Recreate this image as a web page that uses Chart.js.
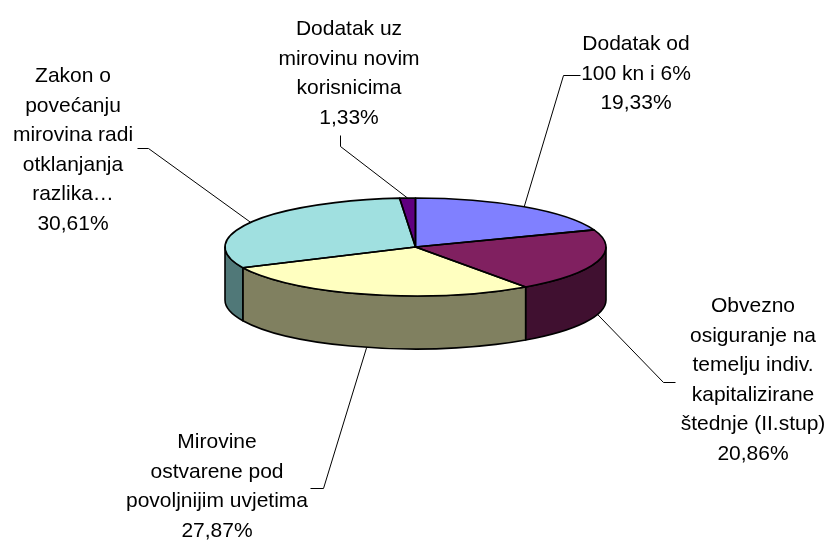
<!DOCTYPE html>
<html>
<head>
<meta charset="utf-8">
<script src="https://cdn.jsdelivr.net/npm/chart.js@4/dist/chart.umd.min.js"></script>
<style>
  html, body { margin: 0; padding: 0; background: #fff; }
  canvas { display: block; }
</style>
</head>
<body>
<canvas id="pie" width="830" height="540"></canvas>
<script>
// slice names, already broken into the lines they are printed on
const categories = [
  ['Dodatak od', '100 kn i 6%'],
  ['Obvezno', 'osiguranje na', 'temelju indiv.', 'kapitalizirane', 'štednje (II.stup)'],
  ['Mirovine', 'ostvarene pod', 'povoljnijim uvjetima'],
  ['Zakon o', 'povećanju', 'mirovina radi', 'otklanjanja', 'razlika…'],
  ['Dodatak uz', 'mirovinu novim', 'korisnicima']
];
const shares = [19.33, 20.86, 27.87, 30.61, 1.33];

const topColors = ['#8080ff', '#802060', '#ffffc0', '#a0e0e0', '#600080'];
const sideColors = ['#404080', '#401030', '#808060', '#507878', '#300040'];

// where each label sits: text centre, first baseline, leader start and bend
const labelPos = [
  { x: 636, y: 50, from: [580, 75], bend: [563, 75] },
  { x: 753, y: 312, from: [675, 382], bend: [663, 382] },
  { x: 217, y: 448, from: [310, 488], bend: [323, 488] },
  { x: 73, y: 82, from: [137, 148], bend: [148, 148] },
  { x: 349, y: 35, from: [340, 135], bend: [340, 146] }
];

const TILT = 49 / 190.5;   // vertical squash of the top face
const DEPTH = 53;          // height of the rim
const LINE_H = 29.5;

const pct = v => v.toFixed(2).replace('.', ',') + '%';

const pie3d = {
  id: 'pie3d',
  // rim first, only the front half is visible
  beforeDatasetsDraw(chart) {
    const ctx = chart.ctx;
    const arcs = chart.getDatasetMeta(0).data;
    ctx.save();
    ctx.lineWidth = 1.6;
    ctx.strokeStyle = '#000';
    ctx.lineJoin = 'round';
    arcs.forEach((arc, i) => {
      const { x, y, startAngle, endAngle, outerRadius } = arc;
      const ry = outerRadius * TILT;
      [0, 2 * Math.PI].forEach(off => {
        const a = Math.max(startAngle, off);
        const b = Math.min(endAngle, off + Math.PI);
        if (b <= a) return;
        ctx.beginPath();
        ctx.ellipse(x, y, outerRadius, ry, 0, a, b);
        ctx.ellipse(x, y + DEPTH, outerRadius, ry, 0, b, a, true);
        ctx.closePath();
        ctx.fillStyle = sideColors[i];
        ctx.fill();
        ctx.stroke();
      });
    });
    ctx.restore();
  },
  // squash the pie into an ellipse
  beforeDatasetDraw(chart) {
    const ctx = chart.ctx;
    const a = chart.getDatasetMeta(0).data[0];
    ctx.save();
    ctx.translate(a.x, a.y);
    ctx.scale(1, TILT);
    ctx.translate(-a.x, -a.y);
  },
  afterDatasetDraw(chart) {
    const ctx = chart.ctx;
    ctx.restore();
    ctx.save();
    ctx.lineWidth = 1.6;
    ctx.strokeStyle = '#000';
    ctx.lineJoin = 'round';
    chart.getDatasetMeta(0).data.forEach(arc => {
      const { x, y, startAngle, endAngle, outerRadius } = arc;
      ctx.beginPath();
      ctx.moveTo(x, y);
      ctx.ellipse(x, y, outerRadius, outerRadius * TILT, 0, startAngle, endAngle);
      ctx.closePath();
      ctx.stroke();
    });
    ctx.restore();
  },
  afterDraw(chart) {
    const ctx = chart.ctx;
    const arcs = chart.getDatasetMeta(0).data;
    ctx.save();
    ctx.font = '21px "Liberation Sans", Arial, sans-serif';
    ctx.fillStyle = '#000';
    ctx.textAlign = 'center';
    ctx.textBaseline = 'alphabetic';
    ctx.strokeStyle = '#000';
    ctx.lineWidth = 1;
    arcs.forEach((arc, i) => {
      const p = labelPos[i];
      const lines = categories[i].concat(pct(shares[i]));
      lines.forEach((t, j) => ctx.fillText(t, p.x, p.y + j * LINE_H));

      const mid = (arc.startAngle + arc.endAngle) / 2;
      const s = Math.sin(mid);
      const ex = arc.x + arc.outerRadius * Math.cos(mid);
      const ey = arc.y + arc.outerRadius * TILT * s + (s > 0 ? DEPTH : 0);
      ctx.beginPath();
      ctx.moveTo(p.from[0] + 0.5, p.from[1] + 0.5);
      ctx.lineTo(p.bend[0] + 0.5, p.bend[1] + 0.5);
      ctx.lineTo(ex, ey);
      ctx.stroke();
    });
    ctx.restore();
  }
};

new Chart(document.getElementById('pie').getContext('2d'), {
  type: 'pie',
  data: {
    labels: categories,
    datasets: [{
      data: shares,
      backgroundColor: topColors,
      borderWidth: 0,
      radius: 190.5
    }]
  },
  options: {
    responsive: false,
    animation: false,
    events: [],
    layout: { padding: { top: 47, bottom: 93, left: 1, right: 0 } },
    plugins: { legend: { display: false }, tooltip: { enabled: false } }
  },
  plugins: [pie3d]
});
</script>
</body>
</html>
